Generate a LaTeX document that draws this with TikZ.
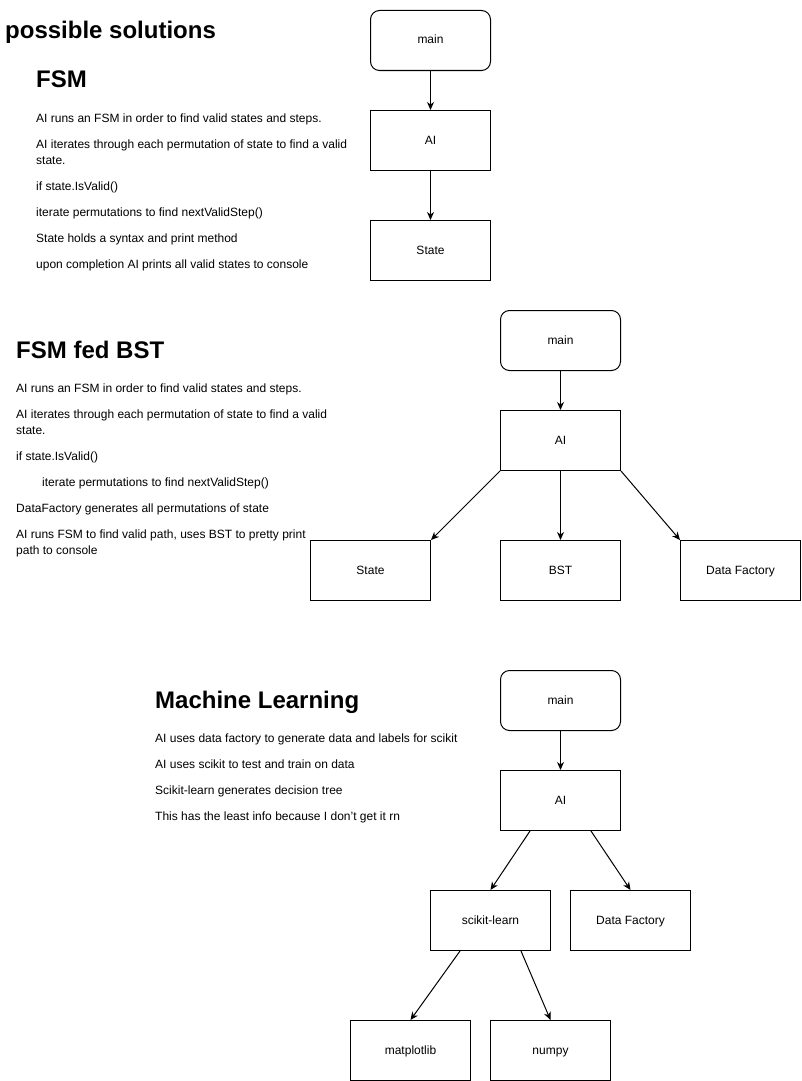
\documentclass[tikz,border=0pt]{standalone}
\usepackage{fontspec}
\setmainfont{Liberation Sans}
\usetikzlibrary{arrows.meta}
\begin{document}
\begin{tikzpicture}[x=1pt,y=-1pt,
  box/.style={draw, line width=1pt, minimum width=120pt, minimum height=60pt, inner sep=0pt, anchor=north west, text height=9.5pt, text depth=2.5pt, font=\fontsize{12}{14}\selectfont},
  rbox/.style={box, rounded corners=9pt},
  txt/.style={anchor=base west, inner sep=0pt, font=\fontsize{12}{14}\selectfont},
  head/.style={anchor=base west, inner sep=0pt, font=\bfseries\fontsize{24}{28}\selectfont},
  arr/.style={-{Stealth[length=8pt,width=7pt,inset=2.5pt]}, line width=1pt}]
\useasboundingbox (0,0) rectangle (801,1081);

% ---------- title ----------
\node[head] (title) at (5,39) {possible solutions};

% ---------- FSM ----------
\node[head] (h1) at (36,88) {FSM};
\node[txt] (t1a) at (36,122) {AI runs an FSM in order to find valid states and steps.};
\node[txt] (t1b) at (36,148) {AI iterates through each permutation of state to find a valid};
\node[txt] (t1c) at (36,164) {state.};
\node[txt] (t1d) at (36,190) {if state.IsValid()};
\node[txt] (t1e) at (36,216) {iterate permutations to find nextValidStep()};
\node[txt] (t1f) at (36,242) {State holds a syntax and print method};
\node[txt] (t1g) at (36,268) {upon completion AI prints all valid states to console};

\node[rbox] (main1) at (370,10) {main};
\node[box] (ai1) at (370,110) {AI};
\node[box] (st1) at (370,220) {State};
\draw[arr] (main1) -- (ai1);
\draw[arr] (ai1) -- (st1);

% ---------- FSM fed BST ----------
\node[head] (h2) at (16,358) {FSM fed BST};
\node[txt] (t2a) at (16,392) {AI runs an FSM in order to find valid states and steps.};
\node[txt] (t2b) at (16,418) {AI iterates through each permutation of state to find a valid};
\node[txt] (t2c) at (16,434) {state.};
\node[txt] (t2d) at (16,460) {if state.IsValid()};
\node[txt] (t2e) at (42,486) {iterate permutations to find nextValidStep()};
\node[txt] (t2f) at (16,512) {DataFactory generates all permutations of state};
\node[txt] (t2g) at (16,538) {AI runs FSM to find valid path, uses BST to pretty print};
\node[txt] (t2h) at (16,554) {path to console};

\node[rbox] (main2) at (500,310) {main};
\node[box] (ai2) at (500,410) {AI};
\node[box] (st2) at (310,540) {State};
\node[box] (bst2) at (500,540) {BST};
\node[box] (df2) at (680,540) {Data Factory};
\draw[arr] (main2) -- (ai2);
\draw[arr] (ai2.south west) -- (st2.north east);
\draw[arr] (ai2) -- (bst2);
\draw[arr] (ai2.south east) -- (df2.north west);

% ---------- Machine Learning ----------
\node[head] (h3) at (155,708) {Machine Learning};
\node[txt] (t3a) at (155,742) {AI uses data factory to generate data and labels for scikit};
\node[txt] (t3b) at (155,768) {AI uses scikit to test and train on data};
\node[txt] (t3c) at (155,794) {Scikit-learn generates decision tree};
\node[txt] (t3d) at (155,820) {This has the least info because I don't get it rn};

\node[rbox] (main3) at (500,670) {main};
\node[box] (ai3) at (500,770) {AI};
\node[box] (sk3) at (430,890) {scikit-learn};
\node[box] (df3) at (570,890) {Data Factory};
\node[box] (mp3) at (350,1020) {matplotlib};
\node[box] (np3) at (490,1020) {numpy};
\draw[arr] (main3) -- (ai3);
\draw[arr] ([xshift=30pt]ai3.south west) -- (sk3.north);
\draw[arr] ([xshift=-30pt]ai3.south east) -- (df3.north);
\draw[arr] ([xshift=30pt]sk3.south west) -- (mp3.north);
\draw[arr] ([xshift=-30pt]sk3.south east) -- (np3.north);
\end{tikzpicture}
\end{document}
